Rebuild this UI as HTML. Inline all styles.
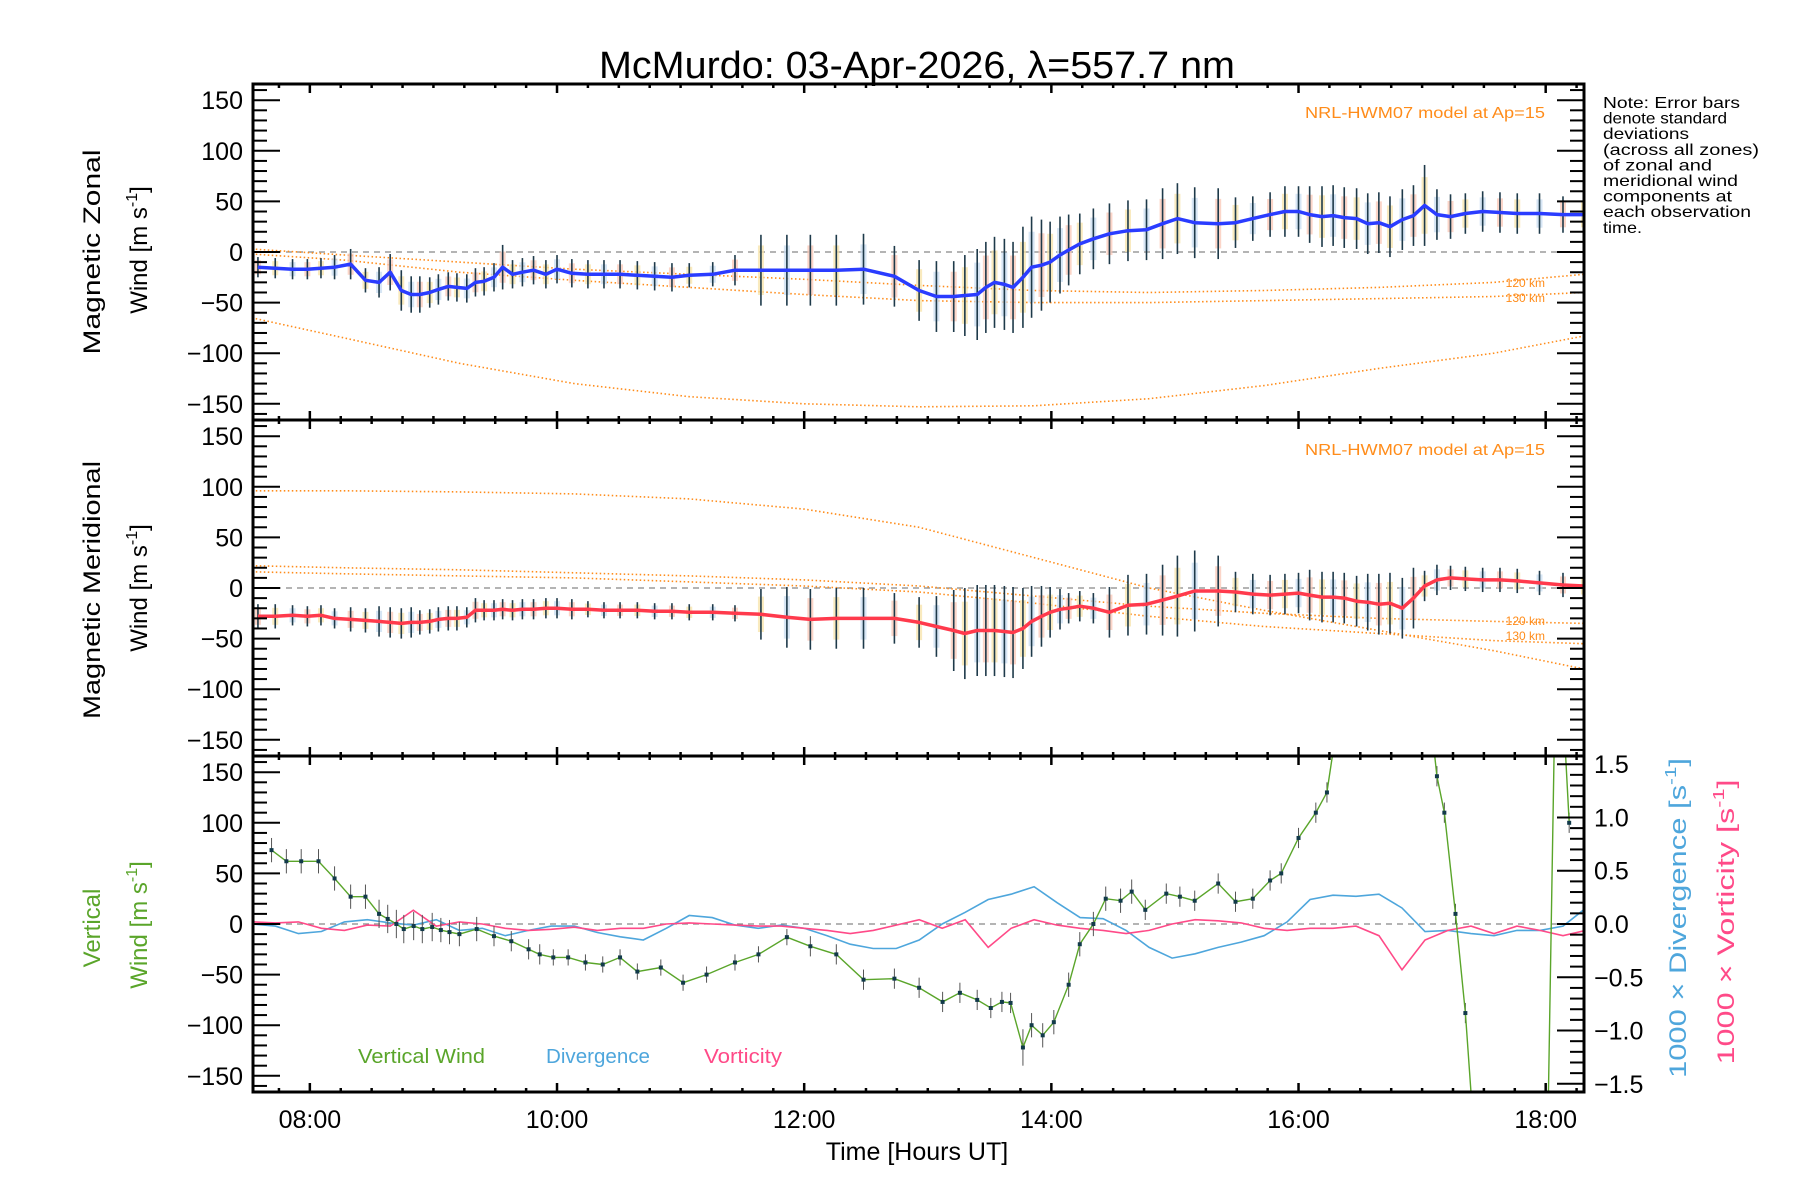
<!DOCTYPE html>
<html><head><meta charset="utf-8"><title>McMurdo winds</title>
<style>
html,body{margin:0;padding:0;background:#fff;}
svg{display:block;font-family:"Liberation Sans",sans-serif;}
</style></head>
<body>
<svg id="chart" width="1800" height="1200" viewBox="0 0 1800 1200" xmlns="http://www.w3.org/2000/svg">
<rect x="0" y="0" width="1800" height="1200" fill="#fff"/>
<text x="917" y="78" font-size="38" text-anchor="middle" textLength="636" lengthAdjust="spacingAndGlyphs">McMurdo: 03-Apr-2026, λ=557.7 nm</text>
<g id="plots"></g>
<g font-size="16" fill="#000">
<text x="1603" y="108" textLength="137" lengthAdjust="spacingAndGlyphs">Note: Error bars</text>
<text x="1603" y="123.6" textLength="124" lengthAdjust="spacingAndGlyphs">denote standard</text>
<text x="1603" y="139.2" textLength="86" lengthAdjust="spacingAndGlyphs">deviations</text>
<text x="1603" y="154.8" textLength="156" lengthAdjust="spacingAndGlyphs">(across all zones)</text>
<text x="1603" y="170.4" textLength="109" lengthAdjust="spacingAndGlyphs">of zonal and</text>
<text x="1603" y="186" textLength="135" lengthAdjust="spacingAndGlyphs">meridional wind</text>
<text x="1603" y="201.6" textLength="129" lengthAdjust="spacingAndGlyphs">components at</text>
<text x="1603" y="217.2" textLength="148" lengthAdjust="spacingAndGlyphs">each observation</text>
<text x="1603" y="232.8" textLength="39" lengthAdjust="spacingAndGlyphs">time.</text>
</g>
</svg>
<script>
// ---- data ----
const obsTimes = [7.58,7.72,7.86,7.98,8.09,8.20,8.33,8.45,8.56,8.65,
8.74,8.82,8.89,8.97,9.04,9.12,9.19,9.27,9.34,9.41,
9.49,9.56,9.64,9.72,9.81,9.91,10.00,10.12,10.25,10.38,
10.51,10.65,10.79,10.93,11.07,11.26,11.44,11.65,11.86,12.05,
12.26,12.48,12.73,12.93,13.07,13.21,13.30,13.40,13.47,13.54,
13.62,13.69,13.77,13.84,13.92,13.99,14.07,14.14,14.23,14.34,
14.47,14.62,14.77,14.90,15.02,15.16,15.35,15.49,15.63,15.77,
15.89,16.00,16.09,16.19,16.28,16.37,16.47,16.56,16.65,16.74,
16.84,16.93,17.02,17.12,17.23,17.35,17.49,17.63,17.77,17.95,
18.14,18.31];
const zonalWind = [-15,-16,-17,-17,-16,-15,-12,-28,-30,-20,
-38,-42,-42,-40,-37,-34,-35,-36,-30,-29,
-25,-15,-22,-20,-18,-22,-17,-21,-22,-22,
-22,-23,-24,-25,-23,-22,-18,-18,-18,-18,
-18,-17,-24,-38,-44,-44,-43,-42,-35,-30,
-32,-35,-25,-15,-13,-10,-3,2,8,13,
18,21,22,28,33,29,28,29,33,37,
40,40,37,35,36,34,33,28,29,25,
32,36,46,37,35,38,40,39,38,38,
37,37];
const zonalSd = [10,10,10,10,10,12,15,12,15,18,
20,18,18,15,15,14,14,14,14,14,
14,22,14,14,14,14,14,14,14,14,
14,14,14,14,12,12,15,35,35,35,
35,35,30,30,35,35,40,45,45,45,
45,45,50,50,45,40,38,35,30,30,
30,30,30,35,35,35,35,25,22,22,
25,25,28,30,30,30,30,30,30,30,
30,30,40,25,22,20,20,20,20,20,
18,18];
const meridWind = [-28,-28,-27,-28,-27,-30,-31,-32,-33,-34,
-35,-34,-34,-33,-31,-30,-30,-29,-22,-22,
-22,-21,-22,-21,-21,-20,-20,-21,-21,-22,
-22,-22,-23,-23,-24,-24,-25,-26,-29,-31,
-30,-30,-30,-34,-38,-42,-45,-42,-42,-42,
-43,-44,-40,-33,-28,-24,-21,-20,-18,-20,
-24,-17,-16,-12,-8,-3,-3,-4,-6,-7,
-6,-5,-7,-9,-9,-10,-13,-14,-16,-15,
-20,-10,2,8,10,9,8,8,7,5,
3,2];
const meridSd = [12,12,10,10,10,10,12,12,15,15,
15,15,12,12,12,12,12,10,12,10,
10,10,10,10,10,10,10,10,8,8,
8,8,8,8,8,8,8,25,30,30,
30,30,25,25,30,40,45,45,45,45,
45,45,40,35,30,25,20,15,15,15,
25,30,30,35,40,40,35,20,20,20,
20,20,25,25,25,25,25,28,30,30,
30,30,15,15,12,12,12,12,12,12,
12,12];
const modelTimes = [7.53,8.28,9.21,10.14,11.07,12.0,12.93,13.86,14.79,15.72,16.65,17.58,18.31];
const modelZonalA = [-65,-85,-110,-130,-143,-150,-153,-152,-145,-132,-115,-100,-83];
const modelZonal120 = [3,-3,-10,-17,-22,-27,-33,-38,-40,-38,-35,-30,-22];
const modelZonal130 = [-2,-8,-20,-28,-35,-42,-48,-50,-50,-48,-46,-44,-40];
const modelMeridA = [96,96,95,93,88,78,60,30,0,-22,-42,-62,-80];
const modelMerid120 = [22,20,18,15,12,8,2,-8,-18,-25,-30,-33,-35];
const modelMerid130 = [16,14,12,10,6,2,-4,-15,-28,-38,-45,-52,-55];
const vertTimes = [7.69,7.81,7.93,8.07,8.20,8.33,8.45,8.56,8.63,8.70,
8.76,8.84,8.91,8.99,9.06,9.13,9.21,9.35,9.49,9.63,
9.77,9.86,9.97,10.09,10.23,10.37,10.51,10.65,10.84,11.02,
11.21,11.44,11.63,11.86,12.05,12.26,12.48,12.73,12.93,13.12,
13.26,13.40,13.51,13.60,13.67,13.77,13.84,13.93,14.02,14.14,
14.23,14.34,14.44,14.56,14.65,14.76,14.93,15.04,15.16,15.35,
15.49,15.63,15.77,15.86,16.00,16.14,16.23,16.39,17.02,17.12,
17.18,17.27,17.35,17.49,18.00,18.09,18.19];
const vertWind = [73,62,62,62,45,27,27,10,5,0,
-5,-2,-5,-3,-6,-8,-10,-5,-12,-17,
-25,-30,-33,-33,-38,-40,-33,-47,-43,-58,
-50,-38,-30,-13,-22,-30,-55,-54,-63,-77,
-68,-75,-83,-77,-78,-122,-100,-110,-97,-60,
-20,0,25,23,32,14,30,27,23,40,
22,25,43,50,85,110,130,260,260,146,
110,10,-88,-330,-330,330,100];
const vertSd = [12,12,12,12,12,12,12,14,14,14,
14,14,14,14,12,12,12,12,10,10,
10,10,8,8,8,8,8,8,8,8,
8,8,8,8,10,10,10,10,10,10,
10,10,10,10,10,18,12,12,12,12,
12,12,12,12,12,10,10,10,10,10,
10,10,10,10,10,10,10,10,10,10,
10,10,10,10,10,10,10];
const divStart = 7.535, divStep = 0.18605;
const divergence = [0,-0.02,-0.09,-0.07,0.02,0.04,0.01,-0.01,0.04,-0.06,
-0.04,-0.11,-0.06,-0.02,-0.02,-0.08,-0.12,-0.15,-0.04,0.08,
0.06,-0.01,-0.04,-0.01,-0.04,-0.11,-0.19,-0.23,-0.23,-0.15,
0,0.11,0.23,0.28,0.35,0.20,0.06,0.05,-0.06,-0.22,
-0.32,-0.28,-0.22,-0.17,-0.11,0.02,0.23,0.27,0.26,0.28,
0.15,-0.07,-0.06,-0.09,-0.11,-0.06,-0.06,-0.02,0.15];
const vorticity = [0.02,0.01,0.02,-0.04,-0.06,-0.01,-0.02,0.13,-0.02,0.02,
0,-0.04,-0.06,-0.05,-0.03,-0.06,-0.04,-0.04,0,0.01,
0,-0.01,-0.02,-0.02,-0.04,-0.06,-0.09,-0.06,-0.01,0.04,
-0.04,0.04,-0.22,-0.04,0.04,-0.01,-0.04,-0.06,-0.09,-0.06,
0,0.04,0.03,0.01,-0.04,-0.06,-0.04,-0.04,-0.02,-0.11,
-0.43,-0.15,-0.06,-0.02,-0.09,-0.02,-0.06,-0.11,-0.06];
const yTicks = [-150,-100,-50,0,50,100,150];
const yRightTicks = [-1.5,-1.0,-0.5,0.0,0.5,1.0,1.5];
const xTickLabels = ["08:00","10:00","12:00","14:00","16:00","18:00"];
const xTickHours = [8,10,12,14,16,18];

// ---- geometry ----
const NS="http://www.w3.org/2000/svg";
const X0=253, X1=1584, H0=7.54, H1=18.31;
const panels=[{top:84},{top:420},{top:756}];
const PH=336, YR=166, RR=1.577;
function xs(h){return X0+(h-H0)/(H1-H0)*(X1-X0);}
function ys(p,v){return panels[p].top+PH/2 - v*(PH/2)/YR;}
function yr(v){return panels[2].top+PH/2 - v*(PH/2)/RR;}
const root=document.getElementById('plots');
function mk(tag,attrs,parent){const e=document.createElementNS(NS,tag);for(const k in attrs)e.setAttribute(k,attrs[k]);(parent||root).appendChild(e);return e;}

// clip paths
const defs=mk('defs',{});
panels.forEach((p,i)=>{const c=mk('clipPath',{id:'clip'+i},defs);mk('rect',{x:X0,y:p.top,width:X1-X0,height:PH},c);});

function pathFrom(ts,vs,yf){let d='';for(let i=0;i<ts.length;i++){d+=(i?'L':'M')+xs(ts[i]).toFixed(1)+','+yf(vs[i]).toFixed(1);}return d;}

// ---- panel contents ----
for(let p=0;p<3;p++){
  const g=mk('g',{'clip-path':'url(#clip'+p+')'});
  
  
  const z=mk('line',{x1:X0,x2:X1,y1:ys(p,0),y2:ys(p,0),stroke:'#888','stroke-width':1.3,'stroke-dasharray':'6,5'},g);
  
  
  if(p<2){
    const mods = p===0?[modelZonalA,modelZonal120,modelZonal130]:[modelMeridA,modelMerid120,modelMerid130];
    mods.forEach((m,k)=>{
      const l=mk('path',{d:pathFrom(modelTimes,m,v=>ys(p,v)),fill:'none',stroke:'#ff8c1a','stroke-width':1.6,'stroke-dasharray':'1.5,2.5'},g);
      
      
    });
    const vals = p===0?zonalWind:meridWind;
    const sds = p===0?zonalSd:meridSd;
    for(let i=0;i<obsTimes.length;i++){
      const x=xs(obsTimes[i]);
      const band=mk('rect',{x:x-3,y:ys(p,vals[i]+sds[i]*0.7),width:6,height:ys(p,vals[i]-sds[i]*0.7)-ys(p,vals[i]+sds[i]*0.7),fill:i%3===0?'#f9c7b5':(i%3===1?'#f7e3a8':'#c8dcf0'),opacity:0.75},g);
      
      
      const eb=mk('line',{x1:x,x2:x,y1:ys(p,vals[i]+sds[i]),y2:ys(p,vals[i]-sds[i]),stroke:'#1e3a4a','stroke-width':1.6},g);
      
      
    }
    const ml=mk('path',{d:pathFrom(obsTimes,vals,v=>ys(p,v)),fill:'none',stroke:p===0?'#2a3cff':'#ff3a4c','stroke-width':3.5,'stroke-linejoin':'round'},g);
    
    
  } else {
    const dt=divergence.map((v,i)=>divStart+i*divStep);
    const dl=mk('path',{d:pathFrom(dt,divergence,yr),fill:'none',stroke:'#4ea6dc','stroke-width':1.6},g);
    
    
    const vl=mk('path',{d:pathFrom(dt,vorticity,yr),fill:'none',stroke:'#ff4a88','stroke-width':1.6},g);
    
    
    for(let i=0;i<vertTimes.length;i++){
      if(Math.abs(vertWind[i])>YR) continue;
      const x=xs(vertTimes[i]);
      const eb=mk('line',{x1:x,x2:x,y1:ys(2,vertWind[i]+vertSd[i]),y2:ys(2,vertWind[i]-vertSd[i]),stroke:'#555','stroke-width':1},g);
      
      
    }
    const gl=mk('path',{d:pathFrom(vertTimes,vertWind,v=>ys(2,v)),fill:'none',stroke:'#5aa52a','stroke-width':1.4},g);
    
    
    for(let i=0;i<vertTimes.length;i++){
      if(Math.abs(vertWind[i])>YR) continue;
      const c=mk('rect',{x:xs(vertTimes[i])-2,y:ys(2,vertWind[i])-2,width:4,height:4,fill:'#123a4a'},g);
      
      
    }
  }
}

// ---- axes ----
const ax=mk('g',{stroke:'#000'});


for(let p=0;p<3;p++){
  const top=panels[p].top, bot=top+PH;
  const fr=mk('rect',{x:X0,y:top,width:X1-X0,height:PH,fill:'none','stroke-width':3},ax);
  
  
  for(let v=-160;v<=160;v+=10){
    const y=ys(p,v), major=(v%50===0), len=major?27:14;
    mk('line',{x1:X0,x2:X0+len,y1:y,y2:y,'stroke-width':2},ax);
    if(p<2) mk('line',{x1:X1,x2:X1-len,y1:y,y2:y,'stroke-width':2},ax);
  }
  for(let h=7.75;h<=18.3;h+=0.25){
    const x=xs(h), major=Math.abs(h/2-Math.round(h/2))<1e-6, len=major?9:4;
    mk('line',{x1:x,x2:x,y1:bot,y2:bot-len,'stroke-width':2.5},ax);
    mk('line',{x1:x,x2:x,y1:top,y2:top+len,'stroke-width':2.5},ax);
  }
  yTicks.forEach(v=>{
    const t=mk('text',{x:243,y:ys(p,v)+9,'font-size':25,'text-anchor':'end',stroke:'none',fill:'#000'},root);
    t.textContent=(v<0?'\u2212':'')+Math.abs(v);
    
    
  });
}
for(let v=-15;v<=15;v++){
  const y=yr(v/10), len=(v%5===0)?27:14;
  mk('line',{x1:X1,x2:X1-len,y1:y,y2:y,'stroke-width':2},ax);
}
yRightTicks.forEach(v=>{
  const t=mk('text',{x:1594,y:yr(v)+9,'font-size':25,fill:'#000'},root);
  t.textContent=(v<0?'\u2212':'')+Math.abs(v).toFixed(1);
  
  
});
xTickLabels.forEach((s,i)=>{
  const t=mk('text',{x:xs(xTickHours[i]),y:1128,'font-size':25,'text-anchor':'middle',fill:'#000'},root);
  t.textContent=s;
  
  
});
</script>
<svg width="0" height="0" style="position:absolute"></svg>
<script>
// static labels appended to chart
const svg=document.getElementById('chart');
svg.insertAdjacentHTML('beforeend',`
<text x="917" y="1160" font-size="25" text-anchor="middle">Time [Hours UT]</text>
<text transform="translate(100,252) rotate(-90)" font-size="24" text-anchor="middle" textLength="205" lengthAdjust="spacingAndGlyphs">Magnetic Zonal</text>
<text transform="translate(147,250) rotate(-90)" font-size="24" text-anchor="middle">Wind [m s<tspan font-size="16" dy="-10">-1</tspan><tspan dy="10">]</tspan></text>
<text transform="translate(100,590) rotate(-90)" font-size="24" text-anchor="middle" textLength="258" lengthAdjust="spacingAndGlyphs">Magnetic Meridional</text>
<text transform="translate(147,588) rotate(-90)" font-size="24" text-anchor="middle">Wind [m s<tspan font-size="16" dy="-10">-1</tspan><tspan dy="10">]</tspan></text>
<text transform="translate(100,928) rotate(-90)" font-size="24" text-anchor="middle" fill="#5aa52a">Vertical</text>
<text transform="translate(147,925) rotate(-90)" font-size="24" text-anchor="middle" fill="#5aa52a">Wind [m s<tspan font-size="16" dy="-10">-1</tspan><tspan dy="10">]</tspan></text>
<text transform="translate(1686,918) rotate(-90)" font-size="24" text-anchor="middle" fill="#4ea6dc" textLength="320" lengthAdjust="spacingAndGlyphs">1000 × Divergence [s<tspan font-size="16" dy="-10">-1</tspan><tspan dy="10">]</tspan></text>
<text transform="translate(1734,922) rotate(-90)" font-size="24" text-anchor="middle" fill="#ff4a88" textLength="285" lengthAdjust="spacingAndGlyphs">1000 × Vorticity [s<tspan font-size="16" dy="-10">-1</tspan><tspan dy="10">]</tspan></text>
<text x="1545" y="118" font-size="16" text-anchor="end" fill="#ff8c1a" textLength="240" lengthAdjust="spacingAndGlyphs">NRL-HWM07 model at Ap=15</text>
<text x="1545" y="455" font-size="16" text-anchor="end" fill="#ff8c1a" textLength="240" lengthAdjust="spacingAndGlyphs">NRL-HWM07 model at Ap=15</text>
<text x="1545" y="287" font-size="12" text-anchor="end" fill="#ff8c1a">120 km</text>
<text x="1545" y="302" font-size="12" text-anchor="end" fill="#ff8c1a">130 km</text>
<text x="1545" y="625" font-size="12" text-anchor="end" fill="#ff8c1a">120 km</text>
<text x="1545" y="640" font-size="12" text-anchor="end" fill="#ff8c1a">130 km</text>
<text x="358" y="1063" font-size="20" fill="#5aa52a" textLength="127" lengthAdjust="spacingAndGlyphs">Vertical Wind</text>
<text x="546" y="1063" font-size="20" fill="#4ea6dc" textLength="104" lengthAdjust="spacingAndGlyphs">Divergence</text>
<text x="704" y="1063" font-size="20" fill="#ff4a88" textLength="78" lengthAdjust="spacingAndGlyphs">Vorticity</text>
`);
</script>
</body></html>
